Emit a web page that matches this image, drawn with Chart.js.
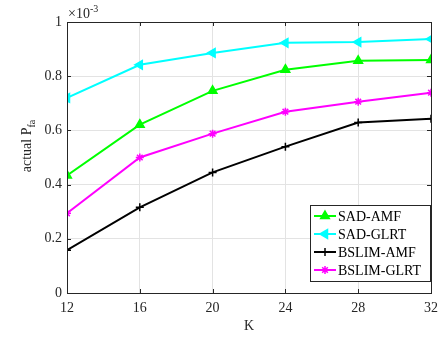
<!DOCTYPE html>
<html>
<head>
<meta charset="utf-8">
<script src="https://cdn.jsdelivr.net/npm/chart.js@4/dist/chart.umd.min.js"></script>
<style>
  html, body { margin: 0; padding: 0; background: #fff; }
  #wrap { width: 441px; height: 339px; }
</style>
</head>
<body>
<div id="wrap"><canvas id="pfaChart" width="441" height="339"></canvas></div>
<script>
// values in units of 1e-3
const kValues = [12, 16, 20, 24, 28, 32];
const sadAmf = [0.434, 0.621, 0.746, 0.824, 0.857, 0.860];
const sadGlrt = [0.720, 0.842, 0.886, 0.923, 0.926, 0.937];
const bslimAmf = [0.158, 0.316, 0.445, 0.540, 0.629, 0.643];
const bslimGlrt = [0.294, 0.500, 0.588, 0.669, 0.706, 0.739];
const yTicks = [0, 0.2, 0.4, 0.6, 0.8, 1];

const FONT = '"Liberation Serif", "DejaVu Serif", serif';

function pts(arr) {
    return arr.map((v, i) => ({x: kValues[i], y: v}));
}

function series(label, data, color, style, rot, radius) {
    return {
        label: label,
        data: pts(data),
        borderColor: color,
        backgroundColor: color,
        borderWidth: 2,
        pointStyle: style,
        pointRotation: rot,
        pointRadius: radius,
        pointBorderWidth: 1.5,
        pointBorderColor: color,
        pointBackgroundColor: color,
        tension: 0
    };
}

// box, inner ticks, exponent and y title
const matlabAxes = {
    id: 'matlabAxes',
    afterDraw(chart) {
        const ctx = chart.ctx;
        const a = chart.chartArea;
        const xs = chart.scales.x, ys = chart.scales.y;
        ctx.save();
        ctx.strokeStyle = '#262626';
        ctx.lineWidth = 1;
        ctx.beginPath();
        kValues.forEach(k => {
            const px = Math.round(xs.getPixelForValue(k)) + 0.5;
            ctx.moveTo(px, a.bottom); ctx.lineTo(px, a.bottom - 4);
            ctx.moveTo(px, a.top); ctx.lineTo(px, a.top + 4);
        });
        yTicks.forEach(t => {
            const py = Math.round(ys.getPixelForValue(t)) + 0.5;
            ctx.moveTo(a.left, py); ctx.lineTo(a.left + 4, py);
            ctx.moveTo(a.right, py); ctx.lineTo(a.right - 4, py);
        });
        ctx.stroke();
        ctx.strokeRect(Math.round(a.left) + 0.5, Math.round(a.top) + 0.5,
            Math.round(a.right - a.left), Math.round(a.bottom - a.top));

        ctx.fillStyle = '#262626';
        ctx.font = '14px ' + FONT;
        ctx.textBaseline = 'alphabetic';
        ctx.textAlign = 'left';
        ctx.fillText('\u00d710', a.left + 1, a.top - 4);
        ctx.font = '10px ' + FONT;
        ctx.fillText('-3', a.left + 23, a.top - 10);

        // y title with subscript
        ctx.translate(31, 146);
        ctx.rotate(-Math.PI / 2);
        const main = 'actual P';
        ctx.font = '14px ' + FONT;
        const w1 = ctx.measureText(main).width;
        ctx.font = '10px ' + FONT;
        const w2 = ctx.measureText('fa').width;
        const start = -(w1 + w2) / 2;
        ctx.font = '14px ' + FONT;
        ctx.fillText(main, start, 0);
        ctx.font = '10px ' + FONT;
        ctx.fillText('fa', start + w1, 4);
        ctx.restore();
    }
};

new Chart(document.getElementById('pfaChart').getContext('2d'), {
    type: 'line',
    data: {
        datasets: [
            series('SAD-AMF', sadAmf, '#00ff00', 'triangle', 0, 5),
            series('SAD-GLRT', sadGlrt, '#00ffff', 'triangle', -90, 5),
            series('BSLIM-AMF', bslimAmf, '#000000', 'cross', 0, 4),
            series('BSLIM-GLRT', bslimGlrt, '#ff00ff', 'star', 0, 4)
        ]
    },
    options: {
        responsive: false,
        animation: false,
        layout: {padding: {left: 0, right: 10, top: 22, bottom: 0}},
        scales: {
            x: {
                type: 'linear',
                min: 12, max: 32,
                afterFit(scale) {
                    scale.height = 46;
                    scale.paddingLeft = 0;
                    scale.paddingRight = 0;
                },
                afterBuildTicks(scale) { scale.ticks = kValues.map(v => ({value: v})); },
                grid: {color: '#e3e3e3', drawTicks: false},
                border: {display: false},
                ticks: {color: '#262626', font: {family: FONT, size: 14}, padding: 7, maxRotation: 0},
                title: {display: true, text: 'K', color: '#262626', font: {family: FONT, size: 14}, padding: {top: 0}}
            },
            y: {
                min: 0, max: 1,
                afterFit(scale) { scale.width = 67; },
                afterBuildTicks(scale) { scale.ticks = yTicks.map(v => ({value: v})); },
                grid: {color: '#e3e3e3', drawTicks: false},
                border: {display: false},
                ticks: {color: '#262626', font: {family: FONT, size: 14}, padding: 5,
                    callback: v => String(Math.round(v * 10) / 10)}
            }
        },
        plugins: {
            legend: {display: false},
            tooltip: {enabled: false}
        }
    },
    plugins: [matlabAxes, {
        id: 'boxLegend',
        afterDraw(chart) {
            const ctx = chart.ctx;
            const x0 = 310, y0 = 205, w = 120, h = 76;
            ctx.save();
            ctx.fillStyle = '#fff';
            ctx.fillRect(x0, y0, w, h);
            ctx.strokeStyle = '#262626';
            ctx.lineWidth = 1;
            ctx.strokeRect(x0 + 0.5, y0 + 0.5, w, h);
            ctx.font = '14px ' + FONT;
            ctx.textBaseline = 'middle';
            chart.data.datasets.forEach((ds, i) => {
                const cy = y0 + 11 + i * 18;
                ctx.strokeStyle = ds.borderColor;
                ctx.fillStyle = ds.borderColor;
                ctx.lineWidth = 2;
                ctx.beginPath();
                ctx.moveTo(x0 + 4, cy); ctx.lineTo(x0 + 26, cy);
                ctx.stroke();
                ctx.lineWidth = 1.5;
                Chart.helpers.drawPoint(ctx, {
                    pointStyle: ds.pointStyle, rotation: ds.pointRotation,
                    radius: ds.pointRadius, borderWidth: 1.5
                }, x0 + 15, cy);
                ctx.fillStyle = '#000';
                ctx.fillText(ds.label, x0 + 28, cy + 1);
            });
            ctx.restore();
        }
    }]
});
</script>
</body>
</html>
